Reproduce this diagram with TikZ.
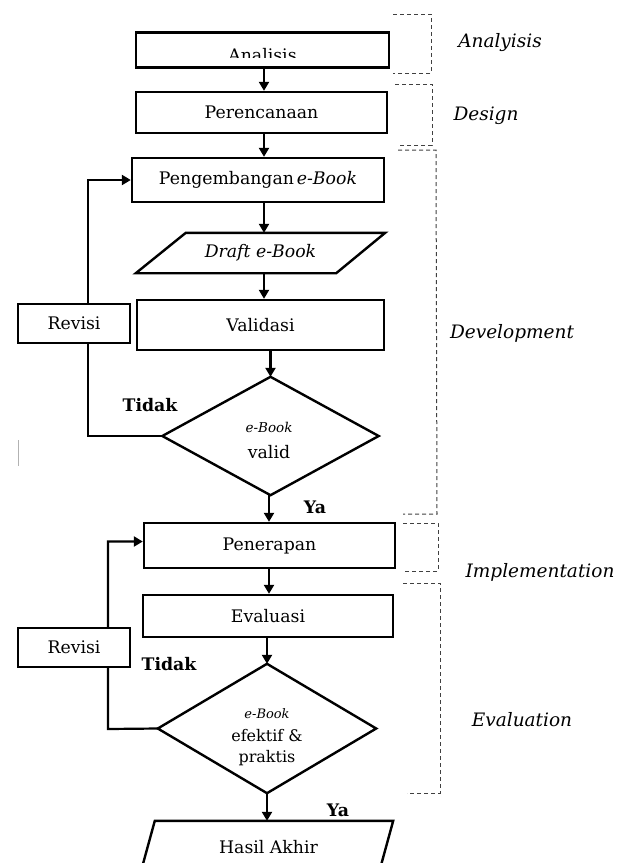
\documentclass[tikz,border=0pt]{standalone}
\usepackage{fontspec}
\setmainfont{DejaVu Serif}
\usetikzlibrary{arrows.meta}
\newcommand{\fsmain}{\fontsize{17.3}{20}\selectfont}
\tikzset{
  box/.style={draw, line width=2.4pt, fill=white, inner sep=0pt, font=\fsmain},
  ghost/.style={inner sep=0pt, font=\fsmain},
  shp/.style={line width=2.4pt},
  arr/.style={line width=2.2pt, -{Triangle[length=9pt,width=10pt]}},
  brk/.style={line width=1pt, black!75, dash pattern=on 4pt off 3pt},
  phase/.style={font=\fontsize{18.5}{22}\selectfont\itshape, inner sep=0pt},
  lbl/.style={font=\fsmain\bfseries, inner sep=0pt}
}
\begin{document}
\begin{tikzpicture}[x=1pt,y=-1pt]
\useasboundingbox (0,0) rectangle (619,863);
\coordinate (col1) at (264,0);
\coordinate (col2) at (269,0);

% main column
\node[box, minimum width=253pt, minimum height=35pt] (a1) at (262.5,50) {};
\begin{scope}
\clip (136,30) rectangle (390,57.5);
\node[ghost] (a1t) at (262.5,55) {Analisis};
\end{scope}
\node[box, minimum width=251pt, minimum height=41pt] (a2) at (261.5,112.5) {Perencanaan};
\node[box, minimum width=252pt, minimum height=44pt] (a3) at (258,180) {Pengembangan\,\textit{e-Book}};
\node[ghost, minimum width=249pt, minimum height=40pt] (a4) at (260.5,253) {\textit{Draft e-Book}};
\draw[shp] ([xshift=50pt]a4.north west) -- (a4.north east) -- ([xshift=-49pt]a4.south east) -- (a4.south west) -- cycle;
\node[box, minimum width=247pt, minimum height=50pt] (a5) at (260.5,325) {Validasi};
\node[ghost, minimum width=216pt, minimum height=118pt] (d1) at (270.5,436) {};
\draw[shp] (d1.north) -- (d1.east) -- (d1.south) -- (d1.west) -- cycle;
\node[ghost, align=center] (d1t) at (269,440)
  {{\fontsize{13.5}{16}\selectfont\itshape e-Book}\\[6pt]valid};
\node[box, minimum width=251pt, minimum height=45pt] (a6) at (269.5,545.5) {Penerapan};
\node[box, minimum width=250pt, minimum height=42pt] (a7) at (268,616) {Evaluasi};
\node[ghost, minimum width=218pt, minimum height=129pt] (d2) at (267,728.5) {};
\draw[shp] (d2.north) -- (d2.east) -- (d2.south) -- (d2.west) -- cycle;
\node[ghost, align=center, font=\fontsize{16}{20}\selectfont] (d2t) at (267,737)
  {{\fontsize{13}{16}\selectfont\itshape e-Book}\\[3pt]efektif \&\\[1pt]praktis};
\node[ghost, minimum width=254pt, minimum height=58pt] (a8) at (266,850) {};
\draw[shp] ([xshift=16pt]a8.north west) -- (a8.north east) -- ([xshift=-16pt]a8.south east) -- (a8.south west) -- cycle;
\node[ghost] (a8t) at (268.5,847) {Hasil Akhir};

% arrows
\draw[arr] (a1.south -| col1) -- (a2.north -| col1);
\draw[arr] (a2.south -| col1) -- (a3.north -| col1);
\draw[arr] (a3.south -| col1) -- (a4.north -| col1);
\draw[arr] (a4.south -| col1) -- (a5.north -| col1);
\draw[arr] (d1.north |- a5.south) -- (d1.north);
\draw[arr] (d1.south -| col2) -- (a6.north -| col2);
\draw[arr] (a6.south -| col2) -- (a7.north -| col2);
\draw[arr] (d2.north |- a7.south) -- (d2.north);
\draw[arr] (d2.south) -- (d2.south |- a8.north);

% feedback loops
\coordinate (c1) at (88,436);
\coordinate (c2) at (108,729);
\draw[arr] (d1.west) -- (c1) |- (a3.west);
\draw[arr] (d2.west) -- (c2) |- ([yshift=4pt]a6.west);
\node[box, line width=1.8pt, minimum width=112pt, minimum height=39pt] (r1) at (74,323.5) {Revisi};
\node[box, line width=1.8pt, minimum width=112pt, minimum height=39pt] (r2) at (74,647.5) {Revisi};

% decision labels
\node[lbl] (t1) at (150,405) {Tidak};
\node[lbl] (y1) at (315,507) {Ya};
\node[lbl] (t2) at (169,664) {Tidak};
\node[lbl] (y2) at (338,810) {Ya};

% phase brackets
\draw[brk] (393,14) -- (431,14) -- (431,73) -- (393,73);
\draw[brk] (395,84) -- (432,84) -- (432,145) -- (400,145);
\draw[brk] (398,150) -- (436,150) -- (437,514) -- (403,514);
\draw[brk] (403,523) -- (438,523) -- (438,571) -- (403,571);
\draw[brk] (403,583) -- (440,583) -- (440,793) -- (407,793);

\node[phase] (p1) at (500,43) {Analyisis};
\node[phase] (p2) at (486,116) {Design};
\node[phase] (p3) at (512,333) {Development};
\node[phase] (p4) at (540,572) {Implementation};
\node[phase] (p5) at (522,720) {Evaluation};

% stray mark
\draw[gray!60, line width=0.6pt] (18,440) -- (18,466);
\end{tikzpicture}
\end{document}
